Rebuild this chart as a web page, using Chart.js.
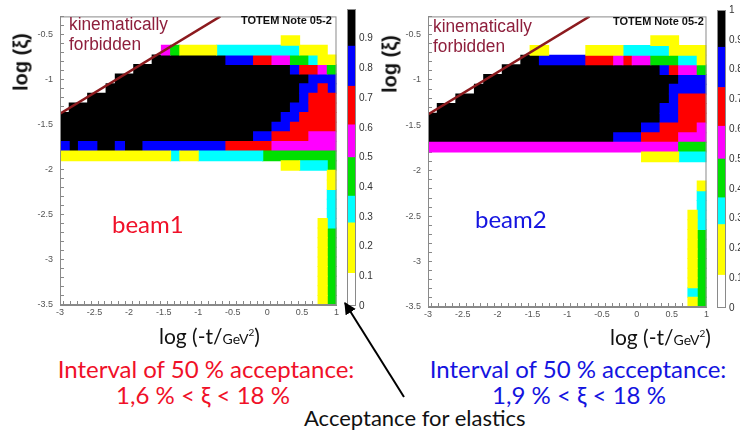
<!DOCTYPE html>
<html>
<head>
<meta charset="utf-8">
<title>TOTEM acceptance, beam1 / beam2</title>
<script src="https://cdn.jsdelivr.net/npm/chart.js@4.4.1/dist/chart.umd.min.js"></script>
<style>
  body { margin: 0; background: #fff; }
  #page { position: relative; width: 740px; height: 432px; overflow: hidden; background: #fff; }
  .box { position: absolute; }
  .t { position: absolute; white-space: nowrap; line-height: 1; font-family: Lato, 'Liberation Sans', sans-serif; }
  .kin { position: absolute; white-space: nowrap; line-height: 1; font: 18px 'Liberation Sans', sans-serif; color: #8e1f3c; transform: scaleX(0.96); transform-origin: 0 0; }
  .note { position: absolute; white-space: nowrap; line-height: 1; font: bold 11px 'Liberation Sans', sans-serif; color: #111; }
  .ytitle { position: absolute; white-space: nowrap; line-height: 1; font: bold 20px 'Liberation Sans', sans-serif; color: #111; transform: translate(-50%, -50%) rotate(-90deg); }
  .xtitle { position: absolute; white-space: nowrap; line-height: 1; font: 21px Lato, sans-serif; color: #111; }
  .xtitle span { font-size: 14px; }
  svg { position: absolute; left: 0; top: 0; pointer-events: none; }
</style>
</head>
<body>
<div id="page">
  <div class="box" style="left:0;top:0;width:345px;height:325px"><canvas id="map1"></canvas></div>
  <div class="box" style="left:346px;top:0;width:30px;height:325px"><canvas id="pal1"></canvas></div>
  <div class="box" style="left:370px;top:0;width:345px;height:327px"><canvas id="map2"></canvas></div>
  <div class="box" style="left:716px;top:0;width:24px;height:327px"><canvas id="pal2"></canvas></div>

  <div class="kin" style="left:69px;top:14px">kinematically</div>
  <div class="kin" style="left:69px;top:34px">forbidden</div>
  <div class="note" style="left:241px;top:14px">TOTEM Note 05-2</div>
  <div class="kin" style="left:433px;top:16px">kinematically</div>
  <div class="kin" style="left:433px;top:36px">forbidden</div>
  <div class="note" style="left:613px;top:15px">TOTEM Note 05-2</div>

  <div class="ytitle" style="left:21px;top:62px">log (ξ)</div>
  <div class="ytitle" style="left:390px;top:64px">log (ξ)</div>

  <div class="t" style="left:112px;top:212px;font-size:24px;color:#f01028">beam1</div>
  <div class="t" style="left:475px;top:207px;font-size:24px;color:#1414e0">beam2</div>

  <div class="xtitle" style="left:159px;top:323px">log (-t/<span>GeV</span><sup style="font-size:10px">2</sup>)</div>
  <div class="xtitle" style="left:610px;top:324px">log (-t/<span>GeV</span><sup style="font-size:10px">2</sup>)</div>

  <div class="t" style="left:0;width:412px;text-align:center;top:357px;font-size:24px;color:#f01028">Interval of 50 % acceptance:</div>
  <div class="t" style="left:0;width:406px;text-align:center;top:383px;font-size:24px;color:#f01028">1,6 % &lt; ξ &lt; 18 %</div>
  <div class="t" style="left:428px;width:300px;text-align:center;top:357px;font-size:24px;color:#1414e0">Interval of 50 % acceptance:</div>
  <div class="t" style="left:428px;width:302px;text-align:center;top:383px;font-size:24px;color:#1414e0">1,9 % &lt; ξ &lt; 18 %</div>
  <div class="t" style="left:304px;width:200px;text-align:center;top:407px;font-size:22px;color:#111">Acceptance for elastics</div>

  <svg width="740" height="432">
    <defs>
      <marker id="head" viewBox="0 0 10 10" refX="9" refY="5" markerWidth="6" markerHeight="6" orient="auto">
        <path d="M0,0 L10,5 L0,10 z" fill="#000"></path>
      </marker>
    </defs>
    <line x1="404" y1="397" x2="345" y2="303" stroke="#000" stroke-width="2" marker-end="url(#head)"></line>
  </svg>
</div>

<script>
// acceptance maps: 30 x 30 bins in log(-t) (x) and log(xi) (y)
// one row per log(xi) bin, top row first, written as runs "<count><class>"
// classes: Y yellow ... K black, '.' = no acceptance
const T_BINS = 30;
const logTRange = [-3, 1];
const logXiRange = [-3.5, -0.3];

const classCodes = ['Y', 'C', 'G', 'M', 'R', 'B', 'K'];
const classAcceptance = [0.2, 0.33, 0.45, 0.55, 0.68, 0.8, 0.95];

// colour palette of the z axis
const paletteEdges = [0, 0.11, 0.28, 0.37, 0.5, 0.61, 0.74, 0.875, 1];
const paletteColors = ['#ffffff', '#ffff00', '#00ffff', '#00e000', '#ff00ff', '#ff0000', '#0000ff', '#000000'];

// kinematic limit
const kinLimitLogT = [-3, -0.68];
const kinLimitLogXi = [-1.38, -0.3];

const beam1Rows = [
  '30.',
  '30.',
  '24. 2Y 4.',
  '11. 1M 1G 4Y 9C 3Y 1.',
  '10. 8K 3B 2R 2M 2G 1C 2Y',
  '8. 17K 1B 2R 1M 1G',
  '6. 21K 3B',
  '5. 21K 2B 1R 1B',
  '3. 23K 1B 3R',
  '1. 24K 2B 3R',
  '24K 2B 4R',
  '23K 2B 5R',
  '21K 2B 4R 3M',
  '1B 1K 2B 2K 1B 2K 9B 5R 7M',
  '12Y 1C 2Y 7C 8G',
  '24. 2Y 3C 1G',
  '29. 1Y',
  '29. 1Y',
  '29. 1C',
  '29. 1C',
  '29. 1C',
  '28. 1Y 1C',
  '28. 1Y 1G',
  '28. 1Y 1G',
  '28. 1Y 1G',
  '28. 1Y 1G',
  '28. 1Y 1G',
  '28. 1Y 1G',
  '28. 1Y 1G',
  '28. 1Y 1G'
];

const beam2Rows = [
  '30.',
  '30.',
  '24. 3Y 3.',
  '11. 2Y 4. 4Y 5C 4Y',
  '10. 2K 5B 3R 1M 1R 2M 3G 2C 1Y',
  '8. 17K 1B 1R 2M 1G',
  '6. 21K 3B',
  '5. 21K 4B',
  '3. 23K 1B 3R',
  '1. 24K 2B 3R',
  '25K 2B 3R',
  '23K 2B 4R 1M',
  '20K 3B 4R 3M',
  '27M 3G',
  '23. 4Y 3C',
  '30.',
  '30.',
  '29. 1Y',
  '29. 1C',
  '29. 1C',
  '28. 1Y 1C',
  '28. 1Y 1C',
  '28. 1Y 1G',
  '28. 1Y 1G',
  '28. 1Y 1G',
  '28. 1Y 1G',
  '28. 1Y 1G',
  '28. 1Y 1G',
  '28. 1C 1G',
  '28. 1Y 1G'
];

function expandRow(spec) {
  return spec.split(' ').map(run => run.slice(-1).repeat(parseInt(run, 10))).join('');
}

function colourOf(v) {
  for (let i = paletteEdges.length - 2; i >= 0; i--) {
    if (v >= paletteEdges[i]) return paletteColors[i];
  }
  return paletteColors[0];
}

// one horizontal floating-bar dataset per colour; runs of equal class in a row merged
function cellDatasets(rowSpecs) {
  const rows = rowSpecs.map(expandRow);
  const dx = (logTRange[1] - logTRange[0]) / T_BINS;
  const byColour = {};
  rows.forEach((row, r) => {
    let c = 0;
    while (c < row.length) {
      const code = row[c];
      let c2 = c + 1;
      while (c2 < row.length && row[c2] === code) c2++;
      const k = classCodes.indexOf(code);
      if (k >= 0) {
        const col = colourOf(classAcceptance[k]);
        (byColour[col] = byColour[col] || []).push({
          y: r,
          x: [logTRange[0] + c * dx, logTRange[0] + c2 * dx]
        });
      }
      c = c2;
    }
  });
  return paletteColors.filter(col => byColour[col]).map(col => ({
    type: 'bar',
    indexAxis: 'y',
    xAxisID: 'x',
    yAxisID: 'yb',
    data: byColour[col],
    backgroundColor: col,
    borderWidth: 0,
    inflateAmount: 0.5,
    grouped: false,
    barPercentage: 1,
    categoryPercentage: 1,
    order: 2
  }));
}

const frame = {
  id: 'frame',
  afterDatasetsDraw(chart) {
    const { ctx, chartArea: a } = chart;
    ctx.save();
    ctx.strokeStyle = '#8a8a8a';
    ctx.lineWidth = 1;
    ctx.strokeRect(a.left + 0.5, a.top + 0.5, a.width - 1, a.height - 1);
    ctx.restore();
  }
};

const halfLabel = v => {
  const h = Math.round(v * 2);
  return Math.abs(v * 2 - h) < 1e-6 ? String(h / 2) : '';
};

const tickFont = { size: 9, family: 'Liberation Sans' };

function makeMap(id, rows, pad, yWidth) {
  return new Chart(document.getElementById(id), {
    type: 'bar',
    data: {
      datasets: [{
        type: 'line',
        xAxisID: 'x',
        yAxisID: 'y',
        data: kinLimitLogT.map((x, i) => ({ x: x, y: kinLimitLogXi[i] })),
        borderColor: '#8c1a1e',
        borderWidth: 2.5,
        pointRadius: 0,
        order: 0
      }].concat(cellDatasets(rows))
    },
    options: {
      responsive: true,
      maintainAspectRatio: false,
      animation: false,
      layout: { padding: pad },
      plugins: { legend: { display: false }, tooltip: { enabled: false } },
      scales: {
        yb: { type: 'category', labels: rows.map((_, r) => r), display: false, offset: true },
        x: {
          type: 'linear', position: 'bottom',
          min: logTRange[0], max: logTRange[1], offset: false, beginAtZero: false,
          ticks: { stepSize: 0.1, autoSkip: false, maxRotation: 0, padding: 6, color: '#555', font: tickFont, callback: halfLabel },
          grid: { drawOnChartArea: false, tickLength: -4, color: '#888' },
          border: { color: '#888' },
          afterFit: s => { s.height = 20; }
        },
        y: {
          type: 'linear', position: 'left',
          min: logXiRange[0], max: logXiRange[1], beginAtZero: false, offset: false,
          ticks: { stepSize: 0.1, autoSkip: false, padding: 11, color: '#555', font: tickFont, callback: halfLabel },
          grid: { drawOnChartArea: false, tickLength: -4, color: '#888' },
          border: { color: '#888' },
          afterFit: s => { s.width = yWidth; }
        }
      }
    },
    plugins: [frame]
  });
}

function makePalette(id, pad, axisWidth, showTop) {
  return new Chart(document.getElementById(id), {
    type: 'bar',
    data: {
      labels: [''],
      datasets: paletteColors.map((col, i) => ({
        data: [[paletteEdges[i], paletteEdges[i + 1]]],
        backgroundColor: col,
        borderWidth: 0,
        grouped: false,
        barPercentage: 1,
        categoryPercentage: 1
      }))
    },
    options: {
      responsive: true,
      maintainAspectRatio: false,
      animation: false,
      layout: { padding: pad },
      plugins: { legend: { display: false }, tooltip: { enabled: false } },
      scales: {
        x: { display: false },
        y: {
          position: 'right', min: 0, max: 1, beginAtZero: true,
          ticks: {
            stepSize: 0.1, padding: 3, color: '#333',
            font: { size: 10, family: 'Liberation Sans' },
            callback: v => (v === 1 && !showTop) ? '' : String(Math.round(v * 10) / 10)
          },
          grid: { drawOnChartArea: false, drawTicks: false },
          border: { display: false },
          afterFit: s => { s.width = axisWidth; }
        }
      }
    },
    plugins: [frame]
  });
}

makeMap('map1', beam1Rows, { top: 8, right: 4, left: 0, bottom: 0 }, 60);
makeMap('map2', beam2Rows, { top: 10, right: 4, left: 0, bottom: 0 }, 58);
makePalette('pal1', { top: 8, bottom: 19, left: 1, right: 0 }, 20, false);
makePalette('pal2', { top: 10, bottom: 19, left: 1, right: 0 }, 14, true);
</script>
</body>
</html>
